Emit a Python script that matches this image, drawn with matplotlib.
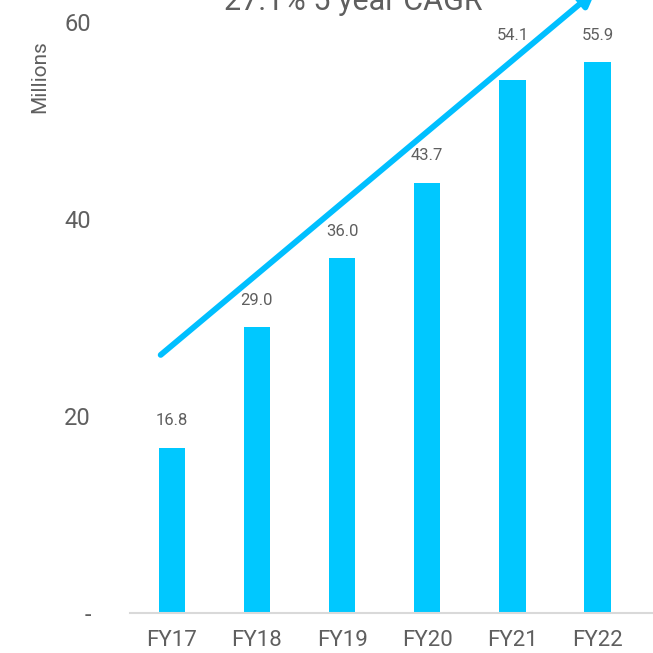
import matplotlib.pyplot as plt

years = ["FY17", "FY18", "FY19", "FY20", "FY21", "FY22"]
values = [16.8, 29.0, 36.0, 43.7, 54.1, 55.9]
yticks = [0, 20, 40, 60]
ytick_labels = ["-", "20", "40", "60"]
title = "27.1% 5 year CAGR"

bar_color = "#00C8FF"
text_color = "#5F5F5F"

plt.rcParams['font.family'] = ['Roboto', 'DejaVu Sans']

fig = plt.figure(figsize=(6.53, 6.53), dpi=100)
ax = fig.add_axes([130 / 653, 40 / 653, 523 / 653, 613 / 653])

x = list(range(len(years)))
ax.bar(x, values, width=0.31, color=bar_color, zorder=2)

for i, v in zip(x, values):
    # the FY21 label sits level with the FY22 one, as in the original
    anchor = max(values[i:i + 2]) if years[i] == "FY21" else v
    ax.annotate(f"{v:.1f}", (i, anchor), xytext=(0, 14), textcoords="offset points",
                ha="center", va="bottom", fontsize=12, color=text_color)

# trend arrow
ax.annotate("", xy=(4.98, 63.2), xytext=(-0.13, 26.2),
            arrowprops=dict(arrowstyle="-|>,head_length=0.9,head_width=0.45",
                            color="#00BFFF", lw=4.2, shrinkA=0, shrinkB=0),
            annotation_clip=False, zorder=3)

ax.set_xlim(-0.49, 5.65)
ax.set_ylim(0, 60 * 613 / 591)
ax.set_xticks(x)
ax.set_xticklabels(years, fontsize=16, color=text_color)
ax.set_yticks(yticks)
ax.set_yticklabels(ytick_labels, fontsize=17, color=text_color)
ax.tick_params(axis="both", length=0)
ax.tick_params(axis="x", pad=12)
ax.tick_params(axis="y", pad=28)

for side in ["top", "right", "left"]:
    ax.spines[side].set_visible(False)
ax.spines["bottom"].set_color("#D9D9D9")
ax.spines["bottom"].set_linewidth(1.5)

ax.set_ylabel("Millions", fontsize=15, color=text_color)
ax.yaxis.set_label_coords(-0.155, 0.875)

fig.text(353 / 653, 1 - 10 / 653, title, ha="center", va="baseline",
         fontsize=22, color=text_color)

plt.savefig("out.png", dpi=100)
